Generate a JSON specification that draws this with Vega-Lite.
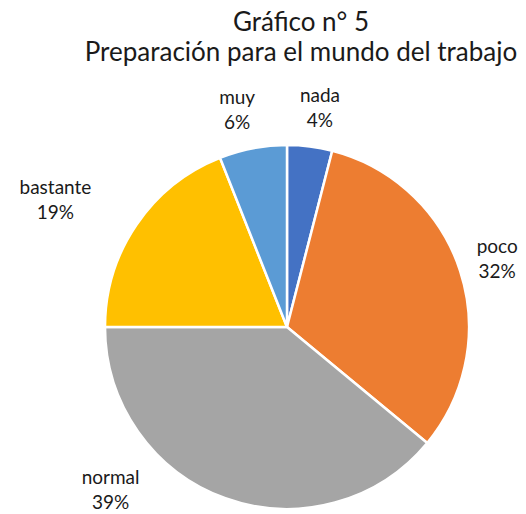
{
  "$schema": "https://vega.github.io/schema/vega-lite/v6.json",
  "autosize": {"type": "none"},
  "width": 478,
  "height": 374,
  "padding": {"top": 140, "left": 48, "right": 0, "bottom": 0},
  "background": "white",
  "title": {
    "text": ["Gráfico n° 5", "Preparación para el mundo del trabajo"],
    "font": "Lato",
    "fontSize": 26,
    "fontWeight": "normal",
    "color": "#1a1a1a",
    "lineHeight": 30,
    "anchor": "middle",
    "frame": "group",
    "dx": 14,
    "offset": 21
  },
  "data": {
    "values": [
      {"cat": "nada", "pct": 4, "ord": 1},
      {"cat": "poco", "pct": 32, "ord": 2},
      {"cat": "normal", "pct": 39, "ord": 3},
      {"cat": "bastante", "pct": 19, "ord": 4},
      {"cat": "muy", "pct": 6, "ord": 5}
    ]
  },
  "transform": [
    {"calculate": "[datum.cat, datum.pct + '%']", "as": "lbl"}
  ],
  "encoding": {
    "theta": {"field": "pct", "type": "quantitative", "stack": true},
    "order": {"field": "ord", "type": "quantitative"}
  },
  "layer": [
    {
      "mark": {"type": "arc", "outerRadius": 182, "stroke": "white", "strokeWidth": 2.5},
      "encoding": {
        "color": {
          "field": "cat",
          "type": "nominal",
          "scale": {
            "domain": ["nada", "poco", "normal", "bastante", "muy"],
            "range": ["#4472C4", "#ED7D31", "#A5A5A5", "#FFC000", "#5B9BD5"]
          },
          "legend": null
        }
      }
    },
    {
      "mark": {
        "type": "text",
        "radius": {"expr": "datum.cat == 'bastante' ? 264 : datum.cat == 'normal' ? 240 : datum.cat == 'muy' ? 223 : 221"},
        "thetaOffset": {"expr": "datum.cat == 'bastante' ? -0.096 : datum.cat == 'normal' ? 0.48 : datum.cat == 'muy' ? -0.037 : datum.cat == 'nada' ? 0.024 : 0"},
        "dy": -12,
        "font": "Lato",
        "fontSize": 19,
        "color": "#1a1a1a",
        "lineHeight": 25
      },
      "encoding": {
        "text": {"field": "lbl"}
      }
    }
  ]
}
